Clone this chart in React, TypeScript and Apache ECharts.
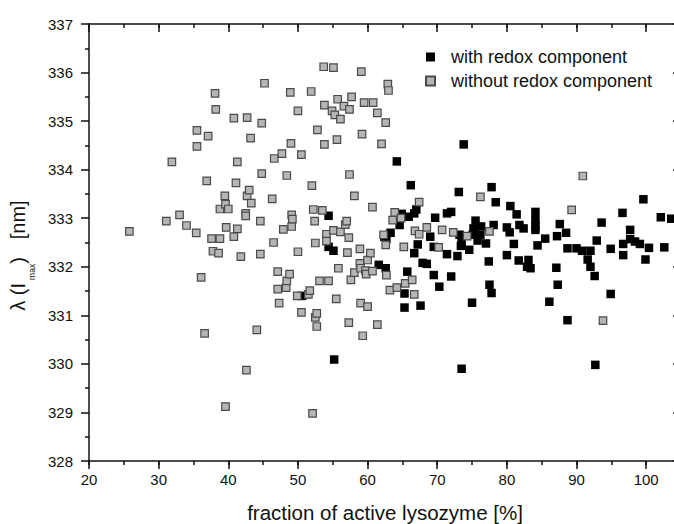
import React, { useEffect, useRef } from "react";
import * as echarts from "echarts";

// fraction of active lysozyme [%], λ(Imax) [nm]
const withRedox: [number, number][] = [
  [50.6, 331.4], [54.4, 333.05], [54.4, 332.41], [55.1, 332.33], [55.2, 330.09],
  [61.6, 332.04], [62.6, 331.97], [62.4, 332.62], [62.7, 332.57], [63.3, 332.7],
  [64.2, 334.17], [64.6, 332.86], [64.9, 333.09], [65.3, 331.45], [65.3, 331.16],
  [65.7, 331.9], [65.9, 333.03], [66.2, 333.68], [66.7, 333.1], [66.7, 332.28],
  [67.0, 333.18], [67.2, 332.46], [67.6, 331.2], [67.9, 332.08], [68.5, 332.06],
  [69.0, 332.62], [69.5, 332.41], [69.5, 331.83], [69.7, 333.01], [70.3, 331.59],
  [71.4, 333.1], [71.4, 332.26], [72.0, 333.13], [72.0, 331.8], [72.9, 332.22],
  [73.1, 333.54], [73.2, 332.66], [73.5, 332.52], [73.4, 332.43], [73.5, 329.9],
  [73.8, 334.52], [74.6, 332.35], [75.0, 331.26], [75.1, 332.66], [75.2, 332.79],
  [75.5, 332.95], [75.8, 332.54], [76.2, 332.66], [76.3, 332.83], [77.0, 332.48],
  [77.4, 332.11], [77.5, 331.63], [77.8, 331.46], [77.8, 333.64], [78.1, 332.86],
  [78.4, 333.33], [80.0, 332.81], [80.0, 332.24], [80.4, 332.71], [80.5, 333.25],
  [81.0, 332.47], [81.4, 333.08], [81.7, 332.13], [81.8, 332.86], [82.4, 332.79],
  [82.9, 332.0], [83.1, 332.14], [83.4, 331.97], [84.1, 333.13], [84.1, 332.96],
  [84.1, 332.84], [84.1, 332.76], [84.4, 332.44], [85.5, 332.58], [86.1, 331.28],
  [87.1, 331.98], [87.2, 332.63], [87.3, 331.63], [87.6, 332.88], [88.5, 332.7],
  [88.7, 332.38], [88.7, 330.9], [90.0, 332.38], [90.8, 332.33], [91.6, 332.15],
  [92.0, 332.33], [92.0, 332.0], [92.6, 331.81], [92.7, 329.98], [92.9, 332.54],
  [93.6, 332.91], [94.9, 332.37], [94.9, 331.44], [96.6, 333.11], [96.7, 332.47],
  [96.7, 332.24], [97.7, 332.76], [97.7, 332.57], [98.4, 332.52], [99.1, 332.47],
  [99.6, 333.39], [99.9, 332.15], [100.4, 332.39], [102.1, 333.02], [102.6, 332.4],
  [103.6, 332.99],
];

const withoutRedox: [number, number][] = [
  [25.8, 332.73], [31.1, 332.94], [31.9, 334.16], [33.0, 333.07], [34.0, 332.85],
  [35.4, 332.7], [35.5, 334.81], [35.5, 334.48], [36.1, 331.78], [36.6, 330.63],
  [36.9, 333.77], [37.1, 334.69], [37.6, 332.58], [37.8, 332.32], [38.1, 335.57],
  [38.2, 335.24], [38.6, 332.28], [38.8, 333.19], [38.8, 332.58], [39.5, 333.46],
  [39.6, 333.29], [39.6, 329.12], [39.7, 332.81], [40.0, 333.19], [40.8, 335.06],
  [40.8, 332.62], [41.1, 333.73], [41.3, 334.16], [41.3, 332.78], [41.8, 332.21],
  [42.5, 333.1], [42.5, 333.05], [42.6, 329.87], [42.7, 335.07], [42.7, 333.46],
  [43.0, 333.58], [43.2, 334.65], [43.3, 333.31], [44.1, 330.7], [44.6, 332.94],
  [44.6, 332.26], [44.8, 334.96], [44.8, 333.92], [45.2, 335.78], [46.3, 333.4],
  [46.5, 332.5], [46.6, 334.23], [47.1, 331.9], [47.1, 331.54], [47.3, 331.25],
  [47.7, 334.33], [47.9, 332.77], [48.3, 331.57], [48.4, 333.88], [48.4, 331.71],
  [48.8, 331.85], [48.9, 335.59], [49.0, 334.54], [49.1, 333.07], [49.1, 332.83],
  [49.2, 332.98], [49.9, 331.4], [50.0, 335.21], [50.0, 332.31], [50.5, 334.31],
  [50.5, 331.06], [51.5, 331.43], [51.7, 331.51], [51.9, 335.61], [52.0, 333.67],
  [52.1, 328.98], [52.2, 333.18], [52.4, 332.94], [52.5, 332.49], [52.5, 330.96],
  [52.7, 331.04], [52.7, 330.77], [52.8, 334.82], [53.1, 331.71], [53.5, 333.16],
  [53.7, 336.12], [53.8, 335.33], [53.8, 334.52], [54.1, 332.67], [54.1, 332.53],
  [54.4, 331.71], [54.9, 335.21], [55.1, 336.1], [55.1, 332.75], [55.3, 335.13],
  [55.5, 331.34], [55.6, 334.62], [55.7, 335.45], [55.8, 331.97], [56.1, 335.04],
  [56.1, 332.72], [56.6, 335.31], [56.8, 332.87], [57.0, 332.94], [57.1, 332.29],
  [57.3, 332.6], [57.3, 330.85], [57.4, 335.24], [57.4, 333.9], [57.6, 331.73],
  [57.7, 335.5], [58.1, 333.46], [58.1, 331.88], [58.9, 332.37], [58.9, 332.07],
  [59.0, 331.97], [59.0, 331.25], [59.1, 336.02], [59.2, 334.73], [59.3, 330.58],
  [59.5, 335.38], [59.7, 331.92], [59.8, 331.85], [60.0, 332.14], [60.0, 331.18],
  [60.4, 332.28], [60.7, 333.23], [60.7, 331.91], [60.8, 335.38], [61.4, 335.17],
  [61.4, 330.81], [62.0, 334.53], [62.3, 332.66], [62.6, 334.97], [62.6, 332.45],
  [62.7, 331.83], [62.9, 335.76], [63.0, 335.63], [63.2, 331.52], [63.6, 332.96],
  [63.9, 333.12], [64.2, 331.57], [64.8, 333.0], [65.2, 332.41], [65.4, 331.66],
  [66.4, 331.73], [66.7, 331.43], [66.8, 332.74], [67.4, 333.33], [67.4, 332.67],
  [68.5, 332.81], [70.2, 332.4], [70.7, 332.76], [72.3, 332.71], [74.3, 332.63],
  [76.2, 333.44], [77.5, 332.73], [89.3, 333.17], [90.9, 333.87], [93.8, 330.89],
];

const seriesNames = ["with redox component", "without redox component"];
const xRange = [20, 105];
const yRange = [328, 337];
const xMajorStep = 10;
const xMinorStep = 5;
const yMajorStep = 1;

const FONT = "'Liberation Sans', Arial, sans-serif";
const INK = "#111";

export default function App() {
  const ref = useRef<HTMLDivElement>(null);

  useEffect(() => {
    if (!ref.current) return;
    const chart = echarts.init(ref.current, undefined, { renderer: "svg" });
    const line = { show: true, lineStyle: { color: INK, width: 1.5 } };
    const baseX = { type: "value", min: xRange[0], max: xRange[1], splitLine: { show: false } };
    const baseY = { type: "value", min: yRange[0], max: yRange[1], interval: yMajorStep, splitLine: { show: false } };
    const tick = (inside: boolean, length: number) => ({
      show: true, inside, length, lineStyle: { color: INK, width: 1.5 },
    });

    chart.setOption({
      animation: false,
      backgroundColor: "#fff",
      grid: { left: 89, top: 24, right: -7, bottom: 63, containLabel: false, outerBoundsMode: "none" },
      legend: {
        orient: "vertical",
        left: 420,
        top: 42,
        itemWidth: 9,
        itemHeight: 9,
        itemGap: 4,
        data: seriesNames,
        textStyle: { fontSize: 18, fontFamily: FONT, color: INK, padding: [0, 0, 0, 11], lineHeight: 20 },
      },
      xAxis: [
        {
          ...baseX,
          position: "bottom",
          interval: xMajorStep,
          axisLine: line,
          axisTick: tick(false, 8),
          axisLabel: { fontSize: 15, fontFamily: FONT, color: INK, margin: 11, showMaxLabel: false },
          name: "fraction of active lysozyme [%]",
          nameLocation: "middle",
          nameGap: 41,
          nameTextStyle: { fontSize: 20.5, fontFamily: FONT, color: INK },
        },
        {
          ...baseX,
          position: "bottom",
          interval: xMinorStep,
          axisLine: { show: false },
          axisTick: tick(false, 4),
          axisLabel: { show: false },
        },
        {
          ...baseX,
          position: "top",
          interval: xMajorStep,
          axisLine: line,
          axisTick: tick(true, 8),
          axisLabel: { show: false },
        },
        {
          ...baseX,
          position: "top",
          interval: xMinorStep,
          axisLine: { show: false },
          axisTick: tick(true, 4),
          axisLabel: { show: false },
        },
      ],
      yAxis: [
        {
          ...baseY,
          position: "left",
          axisLine: line,
          axisTick: tick(false, 8),
          minorTick: { show: true, splitNumber: 2, length: 4, lineStyle: { color: INK, width: 1.5 } },
          axisLabel: { fontSize: 15, fontFamily: FONT, color: INK, margin: 16 },
          name: "{n|λ (I}{s|max}{n|)}{g|}{n|[nm]}{e|}",
          nameLocation: "middle",
          nameGap: 53,
          nameTextStyle: {
            rich: {
              n: { fontSize: 20, fontFamily: FONT, color: INK },
              s: { fontSize: 8.5, fontFamily: FONT, color: INK, verticalAlign: "top", padding: [27, 0, 0, 3] },
              g: { width: 18, fontSize: 20 },
              e: { width: 26, fontSize: 20 },
            },
          },
        },
        {
          ...baseY,
          position: "right",
          axisLine: line,
          axisTick: tick(true, 8),
          minorTick: { show: true, splitNumber: 2, length: 4, lineStyle: { color: INK, width: 1.5 } },
          axisLabel: { show: false },
        },
      ],
      series: [
        {
          name: seriesNames[0],
          type: "scatter",
          xAxisIndex: 0,
          yAxisIndex: 0,
          symbol: "rect",
          symbolSize: 8.5,
          itemStyle: { color: "#000", opacity: 1 },
          data: withRedox,
        },
        {
          name: seriesNames[1],
          type: "scatter",
          xAxisIndex: 0,
          yAxisIndex: 0,
          symbol: "rect",
          symbolSize: 7.5,
          itemStyle: { color: "#b5b5b5", borderColor: "#4a4a4a", borderWidth: 1.2, opacity: 1 },
          data: withoutRedox,
        },
      ],
    });
    return () => chart.dispose();
  }, []);

  return <div ref={ref} style={{ width: 674, height: 524, position: "absolute", left: 0, top: 0 }} />;
}
